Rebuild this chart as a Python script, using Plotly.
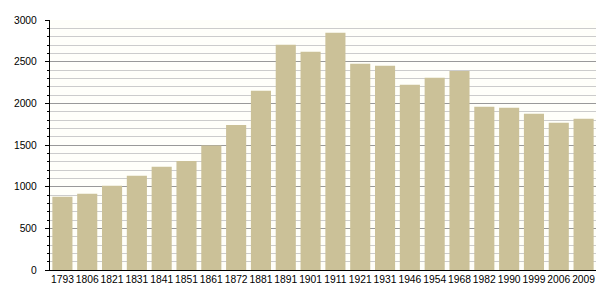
import plotly.graph_objects as go

years = ["1793", "1806", "1821", "1831", "1841", "1851", "1861", "1872", "1881", "1891", "1901",
         "1911", "1921", "1931", "1946", "1954", "1968", "1982", "1990", "1999", "2006", "2009"]
population = [880, 916, 1012, 1132, 1240, 1308, 1493, 1740, 2152, 2704, 2620,
              2848, 2476, 2452, 2224, 2308, 2388, 1960, 1948, 1876, 1768, 1816]

fig = go.Figure()
fig.add_trace(go.Bar(
    x=years, y=population,
    marker=dict(color="#cbc198", line=dict(width=0)),
    hoverinfo="x+y",
))

fig.update_layout(
    width=605, height=300,
    margin=dict(l=50, r=9, t=20, b=30, autoexpand=False),
    paper_bgcolor="white", plot_bgcolor="#fffffa",
    bargap=0.19,
    showlegend=False,
    font=dict(family="Liberation Sans, Arial, sans-serif", size=10, color="#000"),
)
fig.update_xaxes(
    type="category",
    showline=True, linecolor="black", linewidth=1.2,
    ticks="", showgrid=False,
    tickangle=0, automargin=False,
    tickfont=dict(size=10.3),
)
fig.update_yaxes(
    range=[0, 3000],
    tickvals=[0, 500, 1000, 1500, 2000, 2500, 3000],
    showline=True, linecolor="black", linewidth=1.2,
    ticks="outside", ticklen=4, tickcolor="black", tickwidth=1,
    showgrid=True, gridcolor="#999999", gridwidth=1,
    zeroline=False, automargin=False,
    ticklabelstandoff=6,
    minor=dict(dtick=100, ticks="outside", ticklen=2, tickcolor="black",
               showgrid=True, gridcolor="#cccccc", gridwidth=1),
    tickfont=dict(size=10.3),
)

fig.write_html("out.html")
